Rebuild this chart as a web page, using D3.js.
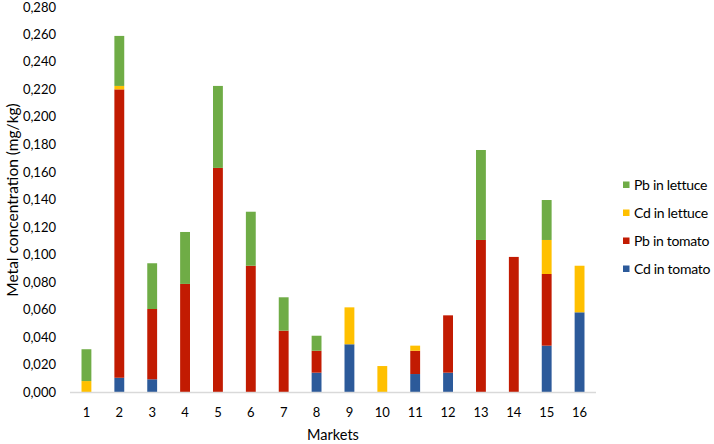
<!DOCTYPE html>
<html>
<head>
<meta charset="utf-8">
<script src="https://cdn.jsdelivr.net/npm/d3@7"></script>
<style>
 body { margin:0; background:#fff; }
 text { font-family: Lato, "Open Sans", sans-serif; fill:#000; }
</style>
</head>
<body>
<script>
var markets = ["1","2","3","4","5","6","7","8","9","10","11","12","13","14","15","16"];
var cdTomato  = [0, 0.0107, 0.0096, 0, 0, 0, 0, 0.0144, 0.035, 0, 0.0134, 0.0144, 0, 0, 0.034, 0.0582];
var pbTomato  = [0, 0.2093, 0.051, 0.0788, 0.163, 0.092, 0.0449, 0.0159, 0, 0, 0.0169, 0.0416, 0.1107, 0.0984, 0.052, 0];
var cdLettuce = [0.0083, 0.0025, 0, 0, 0, 0, 0, 0, 0.0268, 0.0192, 0.0037, 0, 0, 0, 0.0247, 0.0338];
var pbLettuce = [0.0231, 0.0363, 0.0332, 0.0377, 0.0595, 0.0392, 0.0242, 0.0109, 0, 0, 0, 0, 0.0653, 0, 0.029, 0];
var seriesNames = ["Cd in tomato", "Pb in tomato", "Cd in lettuce", "Pb in lettuce"];
var seriesColors = ["#2C5A9A", "#C21B02", "#FFC000", "#6FAC46"];
var yTicks = [0,0.02,0.04,0.06,0.08,0.10,0.12,0.14,0.16,0.18,0.20,0.22,0.24,0.26,0.28];

var svg = d3.select("body").append("svg")
    .attr("width",714)
    .attr("height",444);

var x = d3.scaleBand().domain(markets).range([70,596]).paddingInner(0.7).paddingOuter(0.35);
var y = d3.scaleLinear().domain([0,0.28]).range([392.5,6.7]);

var rows = markets.map(function(m,i){
  return {m:m, s0:cdTomato[i], s1:pbTomato[i], s2:cdLettuce[i], s3:pbLettuce[i]};
});
var stack = d3.stack().keys(["s0","s1","s2","s3"])(rows);

svg.selectAll("g.layer").data(stack).enter().append("g")
   .attr("fill",function(d,i){ return seriesColors[i]; })
   .selectAll("rect").data(function(d){ return d; }).enter().append("rect")
   .attr("x",function(d){ return x(d.data.m); })
   .attr("width",x.bandwidth())
   .attr("y",function(d){ return y(d[1]); })
   .attr("height",function(d){ return y(d[0]) - y(d[1]); });

// axis line
svg.append("line")
   .attr("x1",70).attr("x2",596)
   .attr("y1",y(0)).attr("y2",y(0))
   .attr("stroke","#d9d9d9").attr("stroke-width",1.5);

var fmt = function(v){ return d3.format(".3f")(v).replace(".",","); };
svg.selectAll("text.yt").data(yTicks).enter().append("text")
   .attr("x",56).attr("y",function(d){ return Math.max(y(d), 7.5); })
   .attr("dy","0.35em")
   .attr("text-anchor","end")
   .style("font-size","13px")
   .text(fmt);

svg.selectAll("text.xt").data(markets).enter().append("text")
   .attr("x",function(d){ return x(d) + x.bandwidth()/2; })
   .attr("y",417)
   .attr("text-anchor","middle")
   .style("font-size","13px")
   .text(function(d){ return d; });

svg.append("text")
   .attr("x",333).attr("y",440)
   .attr("text-anchor","middle")
   .style("font-size","14.5px")
   .text("Markets");

svg.append("text")
   .attr("transform","translate(13,200) rotate(-90)")
   .attr("dy","0.35em")
   .attr("text-anchor","middle")
   .style("font-size","15.5px")
   .text("Metal concentration (mg/kg)");

// legend, top entry is last series
var legendOrder = [3,2,1,0];
var lg = svg.selectAll("g.lg").data(legendOrder).enter().append("g")
   .attr("transform",function(d,i){ return "translate(623," + (185 + i*28) + ")"; });
lg.append("rect").attr("x",0).attr("y",-3.5).attr("width",6.5).attr("height",6.5)
   .attr("fill",function(d){ return seriesColors[d]; });
lg.append("text").attr("x",11).attr("dy","0.35em")
   .style("font-size","14px")
   .style("letter-spacing","-0.3px")
   .text(function(d){ return seriesNames[d]; });
</script>
</body>
</html>
